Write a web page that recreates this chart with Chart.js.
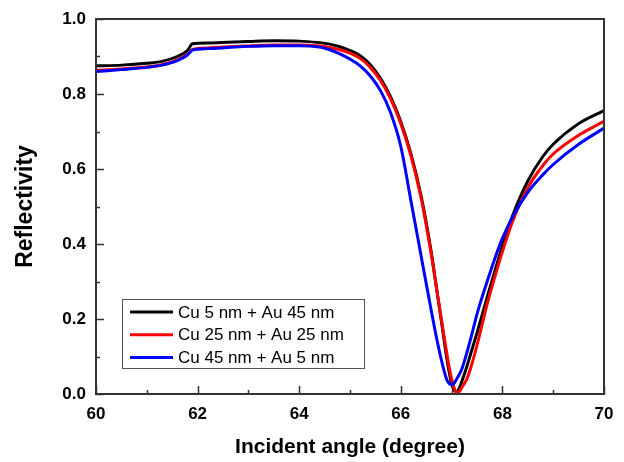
<!DOCTYPE html>
<html>
<head>
<meta charset="utf-8">
<style>
  html, body { margin: 0; padding: 0; background: #fff; }
  #wrap { width: 624px; height: 462px; }
</style>
<script src="https://cdn.jsdelivr.net/npm/chart.js@4.4.1/dist/chart.umd.min.js"></script>
</head>
<body>
<div id="wrap"><canvas id="sprChart" width="624" height="462"></canvas></div>
<script>
// incident angle (degree)
const angles = [60, 60.5, 61, 61.3, 61.6, 61.8, 61.9, 62.2, 62.6, 63, 63.5, 64, 64.4, 64.6, 64.8, 65, 65.2, 65.4, 65.6, 65.8, 66, 66.2, 66.4, 66.6, 66.7, 66.8, 66.9, 66.95, 67, 67.05, 67.1, 67.15, 67.2, 67.3, 67.4, 67.5, 67.6, 67.7, 67.9, 68, 68.2, 68.5, 68.8, 69, 69.5, 70];

const cu5au45 = [0.875, 0.877, 0.882, 0.887, 0.900, 0.916, 0.934, 0.936, 0.938, 0.940, 0.942, 0.941, 0.937, 0.933, 0.926, 0.916, 0.902, 0.878, 0.842, 0.792, 0.726, 0.640, 0.528, 0.378, 0.285, 0.193, 0.100, 0.060, 0.028, 0.010, 0.007, 0.015, 0.033, 0.073, 0.118, 0.163, 0.210, 0.258, 0.350, 0.395, 0.475, 0.568, 0.634, 0.666, 0.721, 0.756];

const cu25au25 = [0.863, 0.867, 0.872, 0.878, 0.891, 0.906, 0.919, 0.923, 0.926, 0.928, 0.931, 0.931, 0.928, 0.924, 0.918, 0.909, 0.895, 0.871, 0.836, 0.787, 0.721, 0.635, 0.522, 0.372, 0.285, 0.198, 0.113, 0.073, 0.040, 0.016, 0.003, 0.006, 0.017, 0.040, 0.080, 0.130, 0.185, 0.240, 0.335, 0.380, 0.460, 0.550, 0.610, 0.640, 0.690, 0.727];

const cu45au5 = [0.860, 0.865, 0.871, 0.877, 0.889, 0.904, 0.917, 0.921, 0.924, 0.927, 0.929, 0.929, 0.925, 0.918, 0.907, 0.893, 0.875, 0.848, 0.809, 0.750, 0.660, 0.515, 0.368, 0.222, 0.152, 0.090, 0.040, 0.028, 0.025, 0.029, 0.040, 0.052, 0.066, 0.110, 0.160, 0.213, 0.258, 0.300, 0.380, 0.415, 0.472, 0.538, 0.585, 0.612, 0.666, 0.709];

const seriesLabels = ['Cu 5 nm + Au 45 nm', 'Cu 25 nm + Au 25 nm', 'Cu 45 nm + Au 5 nm'];
const seriesColors = ['#000000', '#ff0000', '#0000ff'];

const toPoints = (ys) => ys.map((y, i) => ({ x: angles[i], y: y }));

// inward ticks, box frame and the boxed legend
const framePlugin = {
    id: 'frame',
    afterDatasetsDraw(chart) {
        const { ctx, chartArea: a, scales } = chart;
        const xs = scales.x, ys = scales.y;
        ctx.save();
        ctx.strokeStyle = '#333';
        ctx.lineWidth = 1.5;
        ctx.beginPath();
        for (let v = 60; v <= 70; v += 1) {
            const px = Math.round(xs.getPixelForValue(v)) + 0.5;
            const len = v % 2 === 0 ? 8 : 4;
            ctx.moveTo(px, a.bottom);
            ctx.lineTo(px, a.bottom - len);
        }
        for (let k = 0; k <= 10; k++) {
            const py = Math.round(ys.getPixelForValue(k / 10)) + 0.5;
            const len = k % 2 === 0 ? 8 : 4;
            ctx.moveTo(a.left, py);
            ctx.lineTo(a.left + len, py);
        }
        ctx.stroke();

        ctx.lineWidth = 2;
        ctx.strokeRect(a.left, a.top, a.right - a.left, a.bottom - a.top);

        // legend
        const lx = a.left + 26, ly = a.top + 280, lw = 242, lh = 69;
        ctx.fillStyle = '#fff';
        ctx.fillRect(lx, ly, lw, lh);
        ctx.lineWidth = 1;
        ctx.strokeStyle = '#555';
        ctx.strokeRect(lx + 0.5, ly + 0.5, lw, lh);
        ctx.font = '17px "Liberation Sans", Arial, sans-serif';
        ctx.textBaseline = 'middle';
        chart.data.datasets.forEach((ds, i) => {
            const cy = ly + 13 + i * 22.7;
            ctx.strokeStyle = ds.borderColor;
            ctx.lineWidth = 3;
            ctx.beginPath();
            ctx.moveTo(lx + 8, cy);
            ctx.lineTo(lx + 51, cy);
            ctx.stroke();
            ctx.fillStyle = '#000';
            ctx.fillText(ds.label, lx + 56, cy + 1);
        });
        ctx.restore();
    }
};

const ctx = document.getElementById('sprChart').getContext('2d');

new Chart(ctx, {
    type: 'line',
    data: {
        datasets: [cu5au45, cu25au25, cu45au5].map((ys, i) => ({
            label: seriesLabels[i],
            data: toPoints(ys),
            borderColor: seriesColors[i],
            backgroundColor: seriesColors[i],
            borderWidth: 3,
            pointRadius: 0,
            cubicInterpolationMode: 'monotone',
            order: 3 - i
        }))
    },
    options: {
        responsive: false,
        animation: false,
        devicePixelRatio: 1,
        layout: {
            padding: { top: 19, right: 20, left: 0, bottom: 0 }
        },
        plugins: {
            legend: { display: false },
            tooltip: { enabled: false }
        },
        scales: {
            x: {
                type: 'linear',
                min: 60,
                max: 70,
                grid: { display: false },
                border: { display: false },
                ticks: {
                    stepSize: 2,
                    color: '#000',
                    padding: 2,
                    font: { family: '"Liberation Sans", Arial, sans-serif', size: 17, weight: 'bold' }
                },
                title: {
                    display: true,
                    text: 'Incident angle (degree)',
                    color: '#000',
                    padding: { top: 0, bottom: 2 },
                    font: { family: '"Liberation Sans", Arial, sans-serif', size: 21, weight: 'bold' }
                },
                afterFit: (scale) => { scale.height = 68; }
            },
            y: {
                min: 0,
                max: 1,
                grid: { display: false },
                border: { display: false },
                ticks: {
                    stepSize: 0.2,
                    color: '#000',
                    padding: 2,
                    font: { family: '"Liberation Sans", Arial, sans-serif', size: 17, weight: 'bold' },
                    callback: (v) => v.toFixed(1)
                },
                title: {
                    display: true,
                    text: 'Reflectivity',
                    color: '#000',
                    padding: { top: 12, bottom: 0 },
                    font: { family: '"Liberation Sans", Arial, sans-serif', size: 23, weight: 'bold' }
                },
                afterFit: (scale) => { scale.width = 96; }
            }
        }
    },
    plugins: [framePlugin]
});
</script>
</body>
</html>
